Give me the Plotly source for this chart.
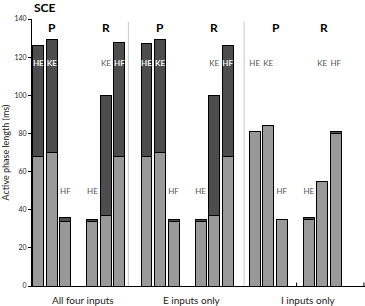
import plotly.graph_objects as go

# Data
positions = [0, 1, 2, 4, 5, 6, 8, 9, 10, 12, 13, 14, 16, 17, 18, 20, 21, 22]
light_vals = [68, 70, 34, 34, 37, 68,
              68, 70, 34, 34, 37, 68,
              81, 84, 35, 35, 55, 80]
totals = [126, 129, 36, 35, 100, 127.5,
          127, 129, 35, 35, 100, 126,
          81, 84, 35, 36, 55, 81]
bar_labels = ["HE", "KE", "HF", "HE", "KE", "HF"] * 3
label_white = [True, True, False, False, False, True,
               True, True, False, False, False, True,
               False, False, False, False, False, False]
group_names = ["All four inputs", "E inputs only", "I inputs only"]
group_pos = [3.3, 11.4, 20.0]
phase_labels = ["P", "R", "P", "R", "P", "R"]
phase_pos = [1, 5, 9, 13, 17.6, 21.1]
separators = [6.66, 15.22]
minor_ticks = [19.1, 24.08]

dark_vals = [t - l for t, l in zip(totals, light_vals)]

font = "Lato"
fig = go.Figure()
fig.add_trace(go.Bar(x=positions, y=light_vals, width=0.81,
                     marker=dict(color="#999999", line=dict(color="black", width=1)),
                     hoverinfo="skip"))
fig.add_trace(go.Bar(x=positions, y=dark_vals, width=0.81,
                     marker=dict(color="#4d4d4d", line=dict(color="black", width=1)),
                     hoverinfo="skip"))

label_y = []
for lab, t in zip(bar_labels, totals):
    label_y.append(49.5 if (lab in ("HF", "HE") and t < 60) else 116.5)

xw = [p for p, w in zip(positions, label_white) if w]
yw = [y for y, w in zip(label_y, label_white) if w]
tw = ["<b>" + l + "</b>" for l, w in zip(bar_labels, label_white) if w]
xg = [p for p, w in zip(positions, label_white) if not w]
yg = [y for y, w in zip(label_y, label_white) if not w]
tg = [l for l, w in zip(bar_labels, label_white) if not w]

fig.add_trace(go.Scatter(x=xw, y=yw, text=tw, mode="text",
                         textfont=dict(family=font, size=8, color="#f2f2f2"),
                         hoverinfo="skip"))
fig.add_trace(go.Scatter(x=xg, y=yg, text=tg, mode="text",
                         textfont=dict(family=font, size=8, color="#555555"),
                         hoverinfo="skip"))

for s in separators:
    fig.add_shape(type="line", x0=s, x1=s, y0=0, y1=138.5, xref="x", yref="y",
                  line=dict(color="#c8c8c8", width=1))
for m in minor_ticks:
    fig.add_shape(type="line", x0=m, x1=m, y0=0, y1=1.8, xref="x", yref="y",
                  line=dict(color="black", width=1))

for name, gp in zip(group_names, group_pos):
    fig.add_annotation(x=gp, y=0, xref="x", yref="y", yshift=-6, yanchor="top",
                       text=name, showarrow=False,
                       font=dict(family=font, size=10, color="#222"))
for name, pp in zip(phase_labels, phase_pos):
    fig.add_annotation(x=pp, y=135.5, xref="x", yref="y", text="<b>" + name + "</b>",
                       showarrow=False, font=dict(family=font, size=12, color="black"))

fig.add_annotation(x=0, y=1.0, xref="paper", yref="paper", yshift=12,
                   xanchor="left", yanchor="middle", text="<b>SCE</b>", showarrow=False,
                   font=dict(family=font, size=12, color="black"))

fig.update_layout(
    width=365, height=306, barmode="stack", showlegend=False,
    margin=dict(l=32, r=0, t=19, b=20, autoexpand=False),
    plot_bgcolor="white", paper_bgcolor="white",
    xaxis=dict(range=[-0.467, 24.16], showline=True, linecolor="black", linewidth=1,
               showticklabels=False, ticks="", showgrid=False, zeroline=False),
    yaxis=dict(range=[0, 140], showline=True, linecolor="black", linewidth=1,
               ticks="outside", ticklen=3, tickcolor="black", dtick=20,
               tickfont=dict(family=font, size=7, color="#222"),
               showgrid=False, zeroline=False, automargin=False,
               title=dict(text="Active phase length (ms)", standoff=4,
                          font=dict(family=font, size=9, color="#222"))),
)

fig.write_html("out.html", config={"displayModeBar": False},
               post_script="document.body.style.margin='0';document.body.style.overflow='hidden';")
